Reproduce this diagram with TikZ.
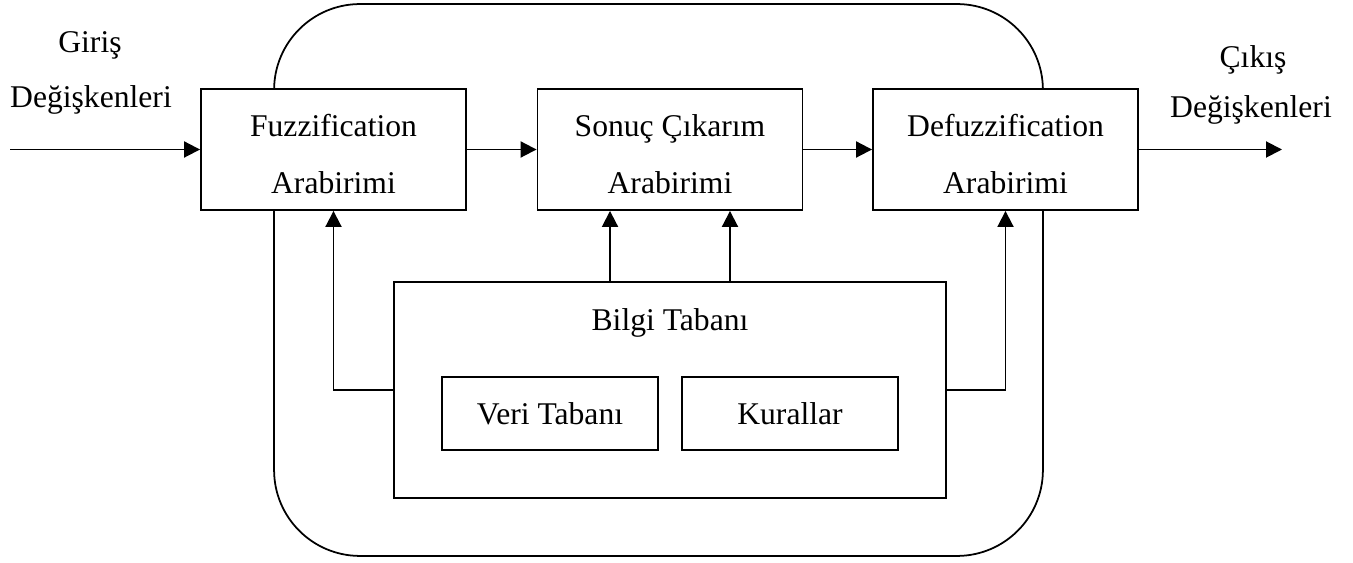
\documentclass[tikz,border=0pt]{standalone}
\usepackage{fontspec}
\setmainfont{Liberation Serif}
\usetikzlibrary{arrows.meta,positioning,calc}
\definecolor{ink}{HTML}{000000}
\newcommand{\ustpay}{\rule{0pt}{0.63cm}}
\tikzset{
  blok/.style ={draw=ink, fill=white, line width=1.1pt, align=center,
                font=\fontsize{18}{32}\selectfont, inner sep=2pt},
  ara/.style  ={blok, minimum width=5.3cm, minimum height=2.42cm},
  ic/.style   ={blok, minimum width=4.32cm, minimum height=1.46cm},
  arr/.style  ={-{Triangle[length=3.2mm,width=3.2mm]}, line width=1.1pt, draw=ink},
  lbl/.style  ={font=\fontsize{18}{22}\selectfont, anchor=base, inner sep=0pt},
}

\begin{document}
\begin{tikzpicture}[x=0.02cm,y=-0.02cm]
  \useasboundingbox (0,0) rectangle (1353,563);

  % outer frame
  \node[draw=ink, line width=1pt, rounded corners=1.72cm,
        minimum width=15.38cm, minimum height=11.04cm] (cerceve) at (658.5,280) {};

  \node[ara] (fuzz)   at (333.5,149.5) {\ustpay Fuzzification\\Arabirimi};
  \node[ara] (sonuc)  at (670,149.5)   {\ustpay Sonuç Çıkarım\\Arabirimi};
  \node[ara] (defuzz) at (1005.5,149.5) {\ustpay Defuzzification\\Arabirimi};

  \node[blok,minimum width=11.04cm,minimum height=4.32cm] (bilgi) at (670,390) {};
  \node[lbl] (bilgibaslik) at (670,331) {Bilgi Tabanı};
  \node[ic] (veri)  at (550,413.5) {Veri Tabanı};
  \node[ic] (kural) at (790,413.5) {Kurallar};

  \node[lbl] (giris)    at (90,53)   {Giriş};
  \node[lbl] (girisdeg) at (91,108)  {Değişkenleri};
  \node[lbl] (cikis)    at (1253,68) {Çıkış};
  \node[lbl] (cikisdeg) at (1251,118) {Değişkenleri};

  \coordinate (girisuc) at (10,149.5);
  \coordinate (cikisuc) at (1282,149.5);

  \draw[arr] (girisuc) -- (fuzz.west);
  \draw[arr] (fuzz.east) -- (sonuc.west);
  \draw[arr] (sonuc.east) -- (defuzz.west);
  \draw[arr] (defuzz.east) -- (cikisuc);

  \draw[arr] (bilgi.west) -| (fuzz.south);
  \draw[arr] (bilgi.east) -| (defuzz.south);
  \draw[arr] ([xshift=-1.2cm]bilgi.north) -- ([xshift=-1.2cm]sonuc.south);
  \draw[arr] ([xshift=1.2cm]bilgi.north) -- ([xshift=1.2cm]sonuc.south);
\end{tikzpicture}
\end{document}
